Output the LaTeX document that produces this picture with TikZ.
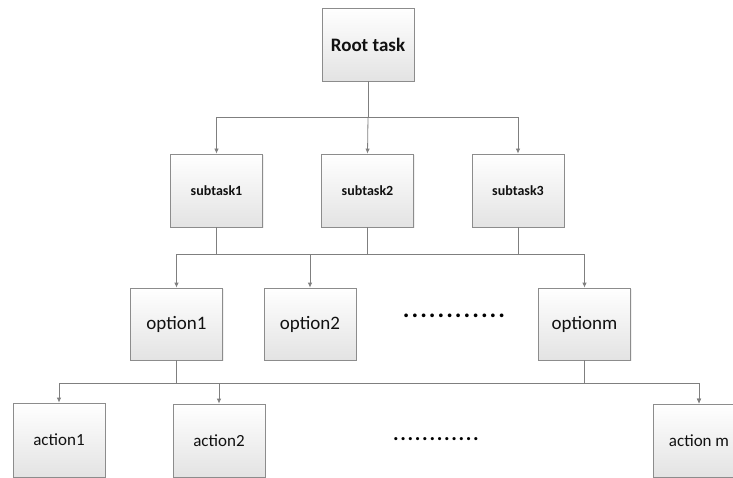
\documentclass[tikz,border=0pt]{standalone}
\usepackage{fontspec}
\setmainfont{Carlito}
\newfontfamily\dotsfont[LetterSpace=8.0]{Carlito}
\usetikzlibrary{arrows.meta,shadows}
\definecolor{linegray}{HTML}{7F7F7F}
\definecolor{boxedge}{HTML}{8C8C8C}
\definecolor{txt}{HTML}{111111}
\tikzset{
  box/.style={draw=boxedge, line width=0.8pt, top color=white, bottom color=black!11,
    minimum width=92pt, minimum height=73pt, inner sep=0pt, text=txt,
    drop shadow={opacity=0.12, shadow xshift=1.2pt, shadow yshift=-1.2pt}},
  rootbox/.style={box, font=\fontsize{19}{22}\selectfont\bfseries},
  subbox/.style={box, font=\fontsize{14}{17}\selectfont\bfseries},
  optbox/.style={box, font=\fontsize{19}{22}\selectfont},
  actbox/.style={box, font=\fontsize{17}{20}\selectfont},
  conn/.style={draw=linegray, line width=0.8pt},
  arr/.style={conn, -{Latex[length=5pt,width=4.5pt]}},
  dotsrow/.style={inner sep=0pt, text=black}
}
\begin{document}
\begin{tikzpicture}[x=1pt,y=-1pt]
\useasboundingbox (0,0) rectangle (733,478);
\clip (0,0) rectangle (733,478);
% nodes
\node[rootbox] (root) at (368,44.5) {Root task};
\node[subbox] (sub1) at (216.5,190.5) {subtask1};
\node[subbox] (sub2) at (367.5,190.5) {subtask2};
\node[subbox] (sub3) at (518,190.5) {subtask3};
\node[optbox, minimum height=72pt] (opt1) at (176.5,324) {option1};
\node[optbox, minimum height=72pt] (opt2) at (310,324) {option2};
\node[optbox, minimum height=72pt] (optm) at (584.5,324) {optionm};
\node[actbox, minimum height=74pt] (act1) at (59,440) {action1};
\node[actbox] (act2) at (219,440.5) {action2};
\node[actbox] (actm) at (699,440.5) {action m};
\node[dotsrow, font=\dotsfont\bfseries\fontsize{25}{25}\selectfont] (dots1) at (454,316) {............};
\node[dotsrow, font=\dotsfont\bfseries\fontsize{21}{21}\selectfont] (dots2) at (436,439) {............};
% junctions
\coordinate (j1) at (368,117);
\coordinate (j2a) at (216.5,254);
\coordinate (j2b) at (367.5,254);
\coordinate (j2c) at (518,254);
\coordinate (j3a) at (176.5,383);
\coordinate (j3b) at (584.5,383);
% root -> subtasks
\draw[conn] (root.south) -- (j1);
\draw[arr] (j1) -| (sub1.north);
\draw[arr] (j1) -- (sub2.north);
\draw[arr] (j1) -| (sub3.north);
% subtasks -> options
\draw[conn] (sub1.south) -- (j2a);
\draw[conn] (sub2.south) -- (j2b);
\draw[conn] (sub3.south) -- (j2c);
\draw[arr] (j2a) -| (opt1.north);
\draw[arr] (j2b) -| (opt2.north);
\draw[arr] (j2c) -| (optm.north);
\draw[conn] (j2a) -- (j2c);
% options -> actions
\draw[conn] (opt1.south) -- (j3a);
\draw[arr] (j3a) -| (act1.north);
\draw[arr] (j3a) -| (act2.north);
\draw[arr] (j3a) -| (actm.north);
\draw[conn] (optm.south) -- (j3b);
\draw[arr] (j3b) -| (actm.north);
\end{tikzpicture}
\end{document}
